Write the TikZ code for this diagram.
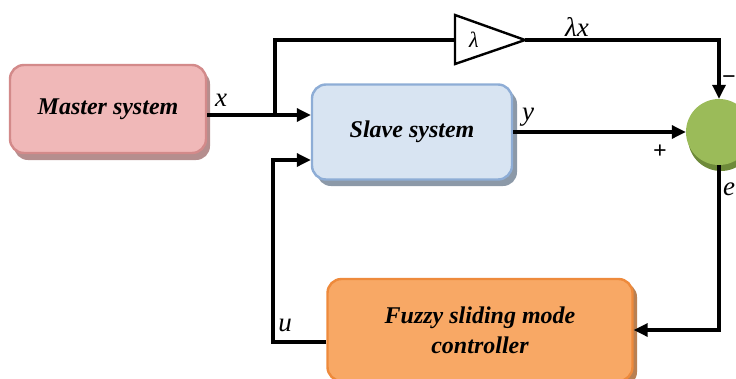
\documentclass[tikz,border=0pt]{standalone}
\usepackage{fontspec}
\setmainfont{Liberation Serif}
\usetikzlibrary{arrows.meta,calc}

\definecolor{mfill}{HTML}{F0B8B8}
\definecolor{mline}{HTML}{D38A8A}
\definecolor{mshadow}{HTML}{B58E8E}
\definecolor{sfill}{HTML}{D8E4F2}
\definecolor{sline}{HTML}{8EADD6}
\definecolor{sshadow}{HTML}{8C99A8}
\definecolor{cfill}{HTML}{F8A865}
\definecolor{cline}{HTML}{EE8A3C}
\definecolor{cshadow}{HTML}{B98052}
\definecolor{gfill}{HTML}{9BBB59}
\definecolor{gshadow}{HTML}{6E8A3A}

\tikzset{
  block/.style={rectangle, rounded corners=14pt, line width=2.4pt,
    font=\fontsize{24}{28}\selectfont\bfseries\itshape, align=center},
  lbl/.style={font=\fontsize{27}{30}\selectfont\itshape, inner sep=0pt},
  sgn/.style={font=\fontsize{24}{26}\selectfont\bfseries, inner sep=0pt},
  wire/.style={line width=3.2pt},
  arr/.style={wire, -{Triangle[length=14pt,width=13pt]}},
}

\begin{document}
\begin{tikzpicture}[x=1pt,y=-1pt]
\useasboundingbox (0,0) rectangle (736,378);

% drop shadows of the blocks
\fill[mshadow, rounded corners=14pt] (14,70) rectangle (210,160);
\fill[sshadow, rounded corners=14pt] (317,90) rectangle (517,186);
\fill[cshadow, rounded corners=14pt] (332,283) rectangle (637,386);
\fill[gshadow] (721,138) circle (33pt);

% blocks
\node[block, fill=mfill, draw=mline, minimum width=196pt, minimum height=88pt]
  (master) at (108,109) {Master system};
\node[block, fill=sfill, draw=sline, minimum width=200pt, minimum height=95pt]
  (slave) at (412,132) {Slave system};
\node[block, fill=cfill, draw=cline, minimum width=305pt, minimum height=102pt]
  (ctrl) at (480,330) {Fuzzy sliding mode\\[2pt]controller};

% gain triangle
\coordinate (gw) at (455,40);
\coordinate (apex) at (525,40);
\draw[line width=2.4pt, line join=miter, fill=white]
  (455,15) -- (apex) -- (455,64) -- cycle;
\node[lbl, font=\fontsize{22}{24}\selectfont\itshape] (lam) at (474,40) {λ};

\node[circle, fill=gfill, minimum size=66pt, inner sep=0pt] (sum) at (719,132) {};

% connector corners
\coordinate (j) at (275,115);
\coordinate (jt) at (275,40);
\coordinate (gt) at (719,40);
\coordinate (eb) at (719,330);
\coordinate (uc) at (273,342);
\coordinate (ut) at (273,160);

% connectors
\draw[wire] (j -| master.east) -- (j);
\draw[arr] (j) -- (j -| slave.west);
\draw[wire] (j) -- (jt) -- (gw);
\draw[arr] (apex) -- (gt) -- (sum.north);
\draw[arr] (slave.east) -- (sum.west);
\draw[arr] (sum.south) -- (eb) -- (ctrl.east);
\draw[arr] (uc -| ctrl.west) -- (uc) -- (ut) -- (ut -| slave.west);

% labels
\node[lbl] (lx) at (221,100) {x};
\node[lbl] (llx) at (577,27) {λx};
\node[lbl] (ly) at (528,117) {y};
\node[sgn] (lp) at (660,152) {+};
\node[sgn] (lm) at (729,80) {−};
\node[lbl] (le) at (729,189) {e};
\node[lbl] (lu) at (285,325) {u};
\end{tikzpicture}
\end{document}
